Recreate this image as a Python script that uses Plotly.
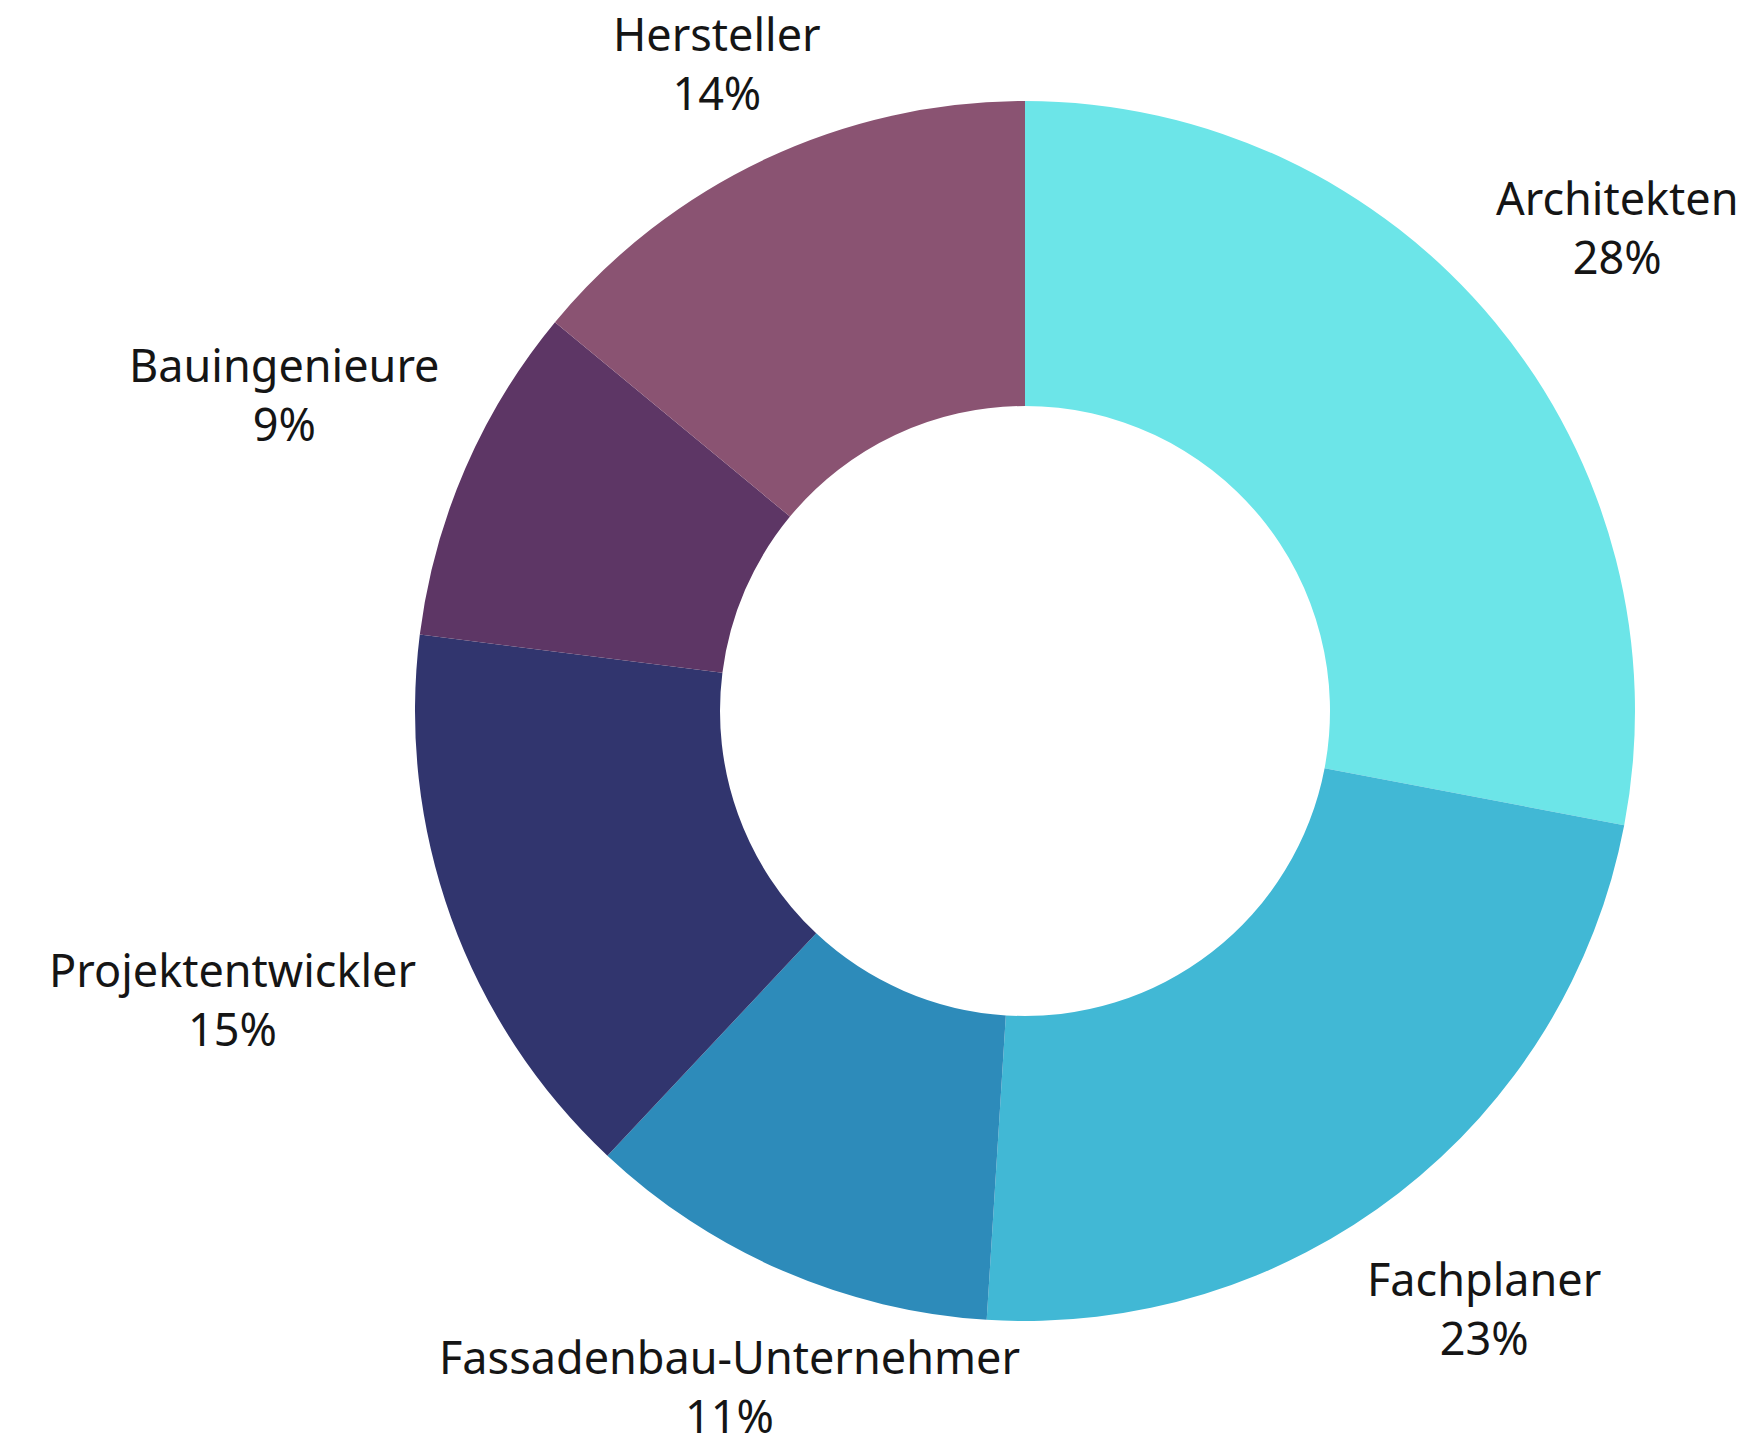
import plotly.graph_objects as go

labels = ["Architekten", "Fachplaner", "Fassadenbau-Unternehmer",
          "Projektentwickler", "Bauingenieure", "Hersteller"]
values = [28, 23, 11, 15, 9, 14]
colors = ["#6ce5e8", "#41b8d5", "#2d8bba", "#31356e", "#5d3665", "#8a5372"]

W, H = 1763, 1450
# label block centres (pixels)
label_px = [(1617, 227), (1484, 1308), (729, 1386),
            (233, 999), (284, 394), (717, 63)]

fig = go.Figure()
fig.add_trace(go.Pie(
    labels=labels, values=values, hole=0.5, sort=False,
    direction="clockwise", rotation=0,
    marker=dict(colors=colors, line=dict(width=0)),
    textinfo="none", hoverinfo="label+percent",
    domain=dict(x=[415 / W, 1635 / W], y=[(H - 1321) / H, (H - 101) / H]),
    showlegend=False,
))

total = sum(values)
font = dict(family="Noto Sans", size=45, color="#151515")
for lab, val, (px, py) in zip(labels, values, label_px):
    fig.add_annotation(
        x=px / W, y=1 - py / H, xref="paper", yref="paper",
        text=f"{lab}<br>{round(100 * val / total)}%",
        showarrow=False, xanchor="center", yanchor="middle",
        align="center", font=font, borderpad=0,
    )

fig.update_layout(
    width=W, height=H, margin=dict(l=0, r=0, t=0, b=0),
    paper_bgcolor="white", plot_bgcolor="white",
)
fig.write_html("out.html")
